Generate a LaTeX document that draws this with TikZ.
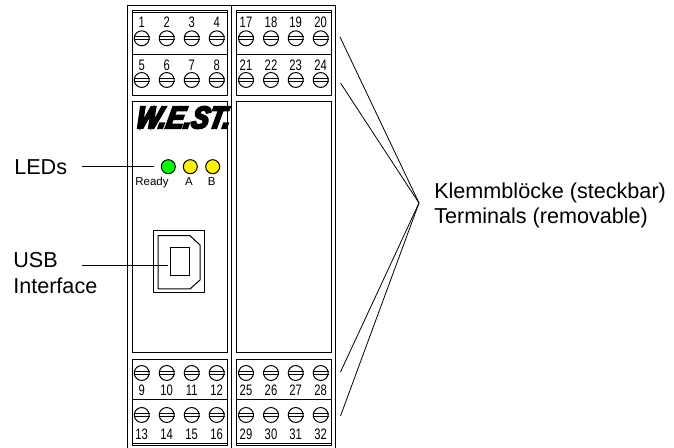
\documentclass[tikz,border=0pt]{standalone}
\usepackage{fontspec}
\setmainfont{Liberation Sans}
\newfontfamily\termfont[FakeStretch=0.74]{Liberation Sans}
\newfontfamily\logofont[FakeBold=7,FakeStretch=0.86,FakeSlant=0.2]{Liberation Sans Bold Italic}
\tikzset{
  wire/.style={line width=0.6pt},
  part/.style={draw, line width=0.75pt},
  screw/.style={circle, draw, line width=0.75pt, minimum size=11.2pt, inner sep=0pt},
  num/.style={inner sep=0pt, anchor=base, font=\termfont\fontsize{11.4}{11.4}\selectfont},
  ledtext/.style={inner sep=0pt, anchor=base, font=\fontsize{8.6}{8.6}\selectfont},
  callout/.style={inner sep=0pt, anchor=west, align=left, font=\fontsize{16.2}{19.2}\selectfont},
  led/.style={circle, draw, line width=0.75pt, minimum size=10.5pt, inner sep=0pt}
}
\newcommand{\screwat}[3]{
  \node[screw] (s#3) at (#1,#2) {};
  \draw[line width=0.6pt] ([yshift=1.2pt]s#3.west) -- ([yshift=1.2pt]s#3.east);
  \draw[line width=0.6pt] ([yshift=-1.2pt]s#3.west) -- ([yshift=-1.2pt]s#3.east);
}
\begin{document}
\begin{tikzpicture}[x=0.75pt,y=-0.75pt]
  \useasboundingbox (0,0) rectangle (674,448);

  % housing
  \draw[part] (127.5,448) -- (127.5,6) -- (335.5,6) -- (335.5,448);
  \draw[part] (231.5,6) -- (231.5,448);

  % terminal blocks
  \foreach \xa/\xb in {132/227, 236/331.5} {
    \draw[part] (\xa,10.5) rectangle (\xb,96);
    \draw[part] (\xa,12.5) -- (\xb,12.5);
    \draw[part] (\xa,55) -- (\xb,55);
    \draw[part] (\xa,360) rectangle (\xb,445);
    \draw[part] (\xa,400) -- (\xb,400);
    \draw[part] (\xa,443) -- (\xb,443);
  }

  % numbers and screws
  \foreach \x/\numa/\numb/\numc/\numd in {
    141.7/1/5/9/13, 166.7/2/6/10/14, 191.7/3/7/11/15, 216.7/4/8/12/16,
    246/17/21/25/29, 271/18/22/26/30, 295.7/19/23/27/31, 320.7/20/24/28/32} {
    \node[num] (n\numa) at (\x,27.5) {\numa};
    \node[num] (n\numb) at (\x,70.5) {\numb};
    \node[num] (n\numc) at (\x,396) {\numc};
    \node[num] (n\numd) at (\x,439) {\numd};
    \screwat{\x}{38.3}{\numa}
    \screwat{\x}{80}{\numb}
    \screwat{\x}{373}{\numc}
    \screwat{\x}{415}{\numd}
  }

  % front panels
  \draw[part] (132,102) rectangle (227,352.5);
  \draw[part] (236,102) rectangle (331.5,352.5);
  \node[inner sep=0pt] (logo) at (182,117.5) {\logofont\fontsize{23}{23}\selectfont W.E.ST.};

  % leds
  \node[led, fill=green] (ready) at (168.3,166.7) {};
  \node[led, fill=yellow] (ledA) at (190.3,166.7) {};
  \node[led, fill=yellow] (ledB) at (212.7,166.7) {};
  \node[ledtext] (readytxt) at (152,186) {Ready};
  \node[ledtext] (Atxt) at (189,186) {A};
  \node[ledtext] (Btxt) at (211.6,186) {B};

  % usb socket
  \draw[part] (153.3,230.7) rectangle (204,293);
  \draw[part] (158,235.7) -- (190,235.7) -- (200,245) -- (200,280) -- (190,289) -- (158,289) -- cycle;
  \node[draw, line width=0.75pt, minimum width=13.9pt, minimum height=21pt, inner sep=0pt] (usbport) at (180,262) {};

  % callouts
  \node[callout] (leds) at (14,167) {LEDs};
  \node[callout] (usb) at (13,273) {USB\\Interface};
  \node[callout] (terminals) at (434,205.5) {Klemmblöcke (steckbar)\\Terminals (removable)};

  \coordinate (ledsend) at (82,166.7);
  \coordinate (ledstip) at (154,166.7);
  \coordinate (usbend) at (82,265.7);
  \coordinate (usbtip) at (168.3,265.7);
  \coordinate (apex) at (419,203);
  \coordinate (t1) at (340,37);
  \coordinate (t2) at (340.5,83);
  \coordinate (t3) at (340.5,372);
  \coordinate (t4) at (340.5,416);

  \draw[wire] (ledsend) -- (ledstip);
  \draw[wire] (usbend) -- (usbtip);
  \draw[wire] (apex) -- (t1);
  \draw[wire] (apex) -- (t2);
  \draw[wire] (apex) -- (t3);
  \draw[wire] (apex) -- (t4);
\end{tikzpicture}
\end{document}
